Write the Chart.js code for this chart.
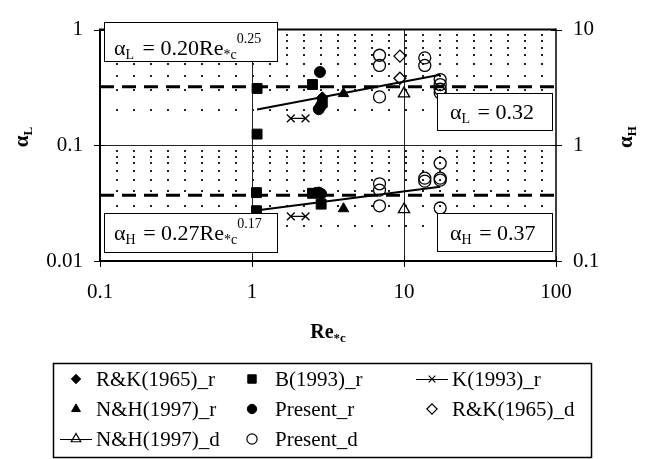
<!DOCTYPE html>
<html>
<head>
<meta charset="utf-8">
<script src="https://cdn.jsdelivr.net/npm/chart.js@4.4.1/dist/chart.umd.min.js"></script>
<style>
  html, body { margin: 0; padding: 0; background: #fff; }
  #wrap { width: 659px; height: 459px; position: relative; }
</style>
</head>
<body>
<div id="wrap"><canvas id="c" width="659" height="459"></canvas></div>
<script>
// ---------- axis ticks ----------
const xTicks = [0.1, 1, 10, 100];
const xTickLabels = ['0.1', '1', '10', '100'];
const yLTicks = [0.01, 0.1, 1];
const yLTickLabels = ['0.01', '0.1', '1'];
const yHTicks = [0.1, 1, 10];
const yHTickLabels = ['0.1', '1', '10'];
const yLMinor = [0.02, 0.03, 0.04, 0.05, 0.06, 0.07, 0.08, 0.09, 0.2, 0.3, 0.4, 0.5, 0.6, 0.7, 0.8, 0.9];
const xMajorGrid = [1, 10];
const yLMajorGrid = [0.1];

// ---------- series names ----------
const seriesNames = ['R&K(1965)_r', 'B(1993)_r', 'K(1993)_r', 'N&H(1997)_r', 'Present_r', 'R&K(1965)_d', 'N&H(1997)_d', 'Present_d'];

// ---------- alpha_L data (left axis) ----------
const rk65r_L_Re = [2.9];
const rk65r_L = [0.26];
const b93r_L_Re = [1.08, 1.08, 2.5, 2.9];
const b93r_L = [0.31, 0.125, 0.335, 0.235];
const k93r_L_Re = [1.8, 2.25];
const k93r_L = [0.171, 0.171];
const nh97r_L_Re = [4.0];
const nh97r_L = [0.28];
const presr_L_Re = [2.8, 2.75, 2.85];
const presr_L = [0.43, 0.205, 0.22];
const rk65d_L_Re = [9.4, 9.4];
const rk65d_L = [0.59, 0.38];
const nh97d_L_Re = [10];
const nh97d_L = [0.28];
const presd_L_Re = [6.9, 6.9, 6.9, 13.7, 13.7, 17.3, 17.3, 17.3, 17.3];
const presd_L = [0.60, 0.49, 0.262, 0.57, 0.49, 0.37, 0.335, 0.305, 0.285];

// ---------- alpha_H data (right axis) ----------
const rk65r_H_Re = [2.6];
const rk65r_H = [0.39];
const b93r_H_Re = [1.07, 1.07, 2.5, 2.85];
const b93r_H = [0.39, 0.272, 0.385, 0.31];
const k93r_H_Re = [1.8, 2.25];
const k93r_H = [0.243, 0.243];
const nh97r_H_Re = [4.0];
const nh97r_H = [0.283];
const presr_H_Re = [2.75, 2.85];
const presr_H = [0.39, 0.38];
const nh97d_H_Re = [10];
const nh97d_H = [0.279];
const presd_H_Re = [6.9, 6.9, 6.9, 13.7, 13.7, 17.3, 17.3, 17.3, 17.3];
const presd_H = [0.465, 0.41, 0.30, 0.52, 0.49, 0.70, 0.52, 0.50, 0.287];

// ---------- fits and constants ----------
const fitL_Re = [1.08, 17.3];
const fitL = [0.204, 0.408];
const fitH_Re = [1.06, 17.3];
const fitH = [0.273, 0.438];
const constRe = [0.1, 100];
const constL = [0.32, 0.32];
const constH = [0.37, 0.37];

const SERIF = '"Liberation Serif", "Times New Roman", serif';

function pts(xs, ys) { return xs.map((x, i) => ({ x: x, y: ys[i] })); }

const styles = {
  'R&K(1965)_r': { pointStyle: 'rectRot', radius: 5.5, fill: true },
  'B(1993)_r':   { pointStyle: 'rect', radius: 7, fill: true },
  'K(1993)_r':   { pointStyle: 'crossRot', radius: 5.5, fill: false, line: true },
  'N&H(1997)_r': { pointStyle: 'triangle', radius: 6, fill: true },
  'Present_r':   { pointStyle: 'circle', radius: 5.5, fill: true },
  'R&K(1965)_d': { pointStyle: 'rectRot', radius: 6, fill: false },
  'N&H(1997)_d': { pointStyle: 'triangle', radius: 6.5, fill: false, line: true },
  'Present_d':   { pointStyle: 'circle', radius: 6, fill: false }
};

function series(name, xs, ys, axis) {
  const s = styles[name];
  return {
    label: name,
    data: pts(xs, ys),
    yAxisID: axis,
    pointStyle: s.pointStyle,
    pointRadius: s.radius,
    pointHoverRadius: s.radius,
    pointBackgroundColor: s.fill ? '#000' : 'rgba(0,0,0,0)',
    pointBorderColor: '#000',
    pointBorderWidth: s.fill ? 1 : 1.3,
    borderColor: '#000',
    borderWidth: 1.2,
    showLine: !!s.line,
    fill: false
  };
}
function lineSet(name, xs, ys, axis, width, dash) {
  return {
    label: name, data: pts(xs, ys), yAxisID: axis,
    showLine: true, pointRadius: 0, pointHoverRadius: 0,
    borderColor: '#000', borderWidth: width, borderDash: dash || [],
    fill: false
  };
}

const datasets = [
  series('R&K(1965)_r', rk65r_L_Re, rk65r_L, 'y'),
  series('B(1993)_r', b93r_L_Re, b93r_L, 'y'),
  series('K(1993)_r', k93r_L_Re, k93r_L, 'y'),
  series('N&H(1997)_r', nh97r_L_Re, nh97r_L, 'y'),
  series('Present_r', presr_L_Re, presr_L, 'y'),
  series('R&K(1965)_d', rk65d_L_Re, rk65d_L, 'y'),
  series('N&H(1997)_d', nh97d_L_Re, nh97d_L, 'y'),
  series('Present_d', presd_L_Re, presd_L, 'y'),
  series('R&K(1965)_r', rk65r_H_Re, rk65r_H, 'y2'),
  series('B(1993)_r', b93r_H_Re, b93r_H, 'y2'),
  series('K(1993)_r', k93r_H_Re, k93r_H, 'y2'),
  series('N&H(1997)_r', nh97r_H_Re, nh97r_H, 'y2'),
  series('Present_r', presr_H_Re, presr_H, 'y2'),
  series('N&H(1997)_d', nh97d_H_Re, nh97d_H, 'y2'),
  series('Present_d', presd_H_Re, presd_H, 'y2'),
  lineSet('fitL', fitL_Re, fitL, 'y', 2),
  lineSet('fitH', fitH_Re, fitH, 'y2', 2),
  lineSet('constL', constRe, constL, 'y', 3, [14, 8]),
  lineSet('constH', constRe, constH, 'y2', 3, [14, 8])
];

// rich text helper: parts = [{t, size, bold, dy}]
function drawRich(ctx, parts, x, y) {
  let cx = x;
  parts.forEach(p => {
    ctx.font = (p.bold ? 'bold ' : '') + p.size + 'px ' + SERIF;
    ctx.fillText(p.t, cx, y + (p.dy || 0));
    cx += ctx.measureText(p.t).width + (p.gap || 0);
  });
  return cx - x;
}
function richWidth(ctx, parts) {
  let w = 0;
  parts.forEach(p => {
    ctx.font = (p.bold ? 'bold ' : '') + p.size + 'px ' + SERIF;
    w += ctx.measureText(p.t).width + (p.gap || 0);
  });
  return w;
}

function drawMarker(ctx, name, x, y) {
  const s = styles[name];
  ctx.save();
  ctx.fillStyle = s.fill ? '#000' : 'rgba(0,0,0,0)';
  ctx.strokeStyle = '#000';
  ctx.lineWidth = s.fill ? 1 : 1.2;
  const r = s.radius * 0.85;
  if (Chart.helpers && Chart.helpers.drawPoint) {
    Chart.helpers.drawPoint(ctx, { pointStyle: s.pointStyle, radius: r, borderWidth: ctx.lineWidth, rotation: 0 }, x, y);
  } else {
    ctx.beginPath(); ctx.arc(x, y, r, 0, Math.PI * 2);
    if (s.fill) ctx.fill(); ctx.stroke();
  }
  ctx.restore();
}

const decor = {
  id: 'decor',
  beforeDatasetsDraw(chart) {
    const { ctx, chartArea: a, scales } = chart;
    const sx = scales.x, sy = scales.y;
    ctx.save();
    // dotted minor gridlines
    ctx.strokeStyle = '#222';
    ctx.lineWidth = 2;
    ctx.setLineDash([2, 15]);
    yLMinor.forEach(v => {
      const py = Math.round(sy.getPixelForValue(v)) + 0.0;
      ctx.beginPath(); ctx.moveTo(a.left - 1, py); ctx.lineTo(a.right, py); ctx.stroke();
    });
    ctx.setLineDash([]);
    // major gridlines
    ctx.lineWidth = 1;
    xMajorGrid.forEach(v => {
      const px = Math.round(sx.getPixelForValue(v)) + 0.5;
      ctx.beginPath(); ctx.moveTo(px, a.top); ctx.lineTo(px, a.bottom); ctx.stroke();
    });
    yLMajorGrid.forEach(v => {
      const py = Math.round(sy.getPixelForValue(v)) + 0.5;
      ctx.beginPath(); ctx.moveTo(a.left, py); ctx.lineTo(a.right, py); ctx.stroke();
    });
    ctx.strokeStyle = '#000';
    // tick marks
    ctx.lineWidth = 1;
    xTicks.forEach(v => {
      const px = Math.round(sx.getPixelForValue(v)) + 0.5;
      ctx.beginPath(); ctx.moveTo(px, a.bottom - 5); ctx.lineTo(px, a.bottom + 6); ctx.stroke();
    });
    yLTicks.forEach(v => {
      const py = Math.round(sy.getPixelForValue(v)) + 0.5;
      ctx.beginPath(); ctx.moveTo(a.left - 6, py); ctx.lineTo(a.left + 5, py); ctx.stroke();
    });
    const sy2 = scales.y2;
    yHTicks.forEach(v => {
      const py = Math.round(sy2.getPixelForValue(v)) + 0.5;
      ctx.beginPath(); ctx.moveTo(a.right - 5, py); ctx.lineTo(a.right + 6, py); ctx.stroke();
    });
    ctx.restore();
  },
  afterDatasetsDraw(chart) {
    const { ctx, chartArea: a } = chart;
    ctx.save();
    // frame
    ctx.strokeStyle = '#000';
    ctx.lineWidth = 2;
    ctx.beginPath();
    ctx.moveTo(a.left, a.top); ctx.lineTo(a.right, a.top);
    ctx.moveTo(a.left, a.bottom); ctx.lineTo(a.right, a.bottom);
    ctx.moveTo(a.left, a.top - 1); ctx.lineTo(a.left, a.bottom + 1);
    ctx.stroke();
    ctx.lineWidth = 1.5;
    ctx.beginPath(); ctx.moveTo(a.right, a.top - 1); ctx.lineTo(a.right, a.bottom + 1); ctx.stroke();

    // annotation boxes
    ctx.fillStyle = '#000';
    ctx.textBaseline = 'alphabetic';
    ctx.textAlign = 'left';
    const boxes = [
      { x: 104, y: 22, w: 173, h: 39, tx: 114, ty: 55, parts: [
        { t: 'α', size: 22 }, { t: 'L', size: 14, dy: 4, gap: 3 }, { t: ' = 0.20Re', size: 22 },
        { t: '*c', size: 14, dy: 4 }, { t: '0.25', size: 14, dy: -12 } ] },
      { x: 437, y: 93, w: 115, h: 37, tx: 450, ty: 119, parts: [
        { t: 'α', size: 22 }, { t: 'L', size: 14, dy: 4, gap: 2 }, { t: ' = 0.32', size: 22 } ] },
      { x: 104, y: 213, w: 173, h: 39, tx: 114, ty: 240, parts: [
        { t: 'α', size: 22 }, { t: 'H', size: 14, dy: 4, gap: 2 }, { t: ' = 0.27Re', size: 22 },
        { t: '*c', size: 14, dy: 4 }, { t: '0.17', size: 14, dy: -12 } ] },
      { x: 437, y: 213, w: 115, h: 38, tx: 450, ty: 240, parts: [
        { t: 'α', size: 22 }, { t: 'H', size: 14, dy: 4, gap: 2 }, { t: ' = 0.37', size: 22 } ] }
    ];
    boxes.forEach(b => {
      ctx.fillStyle = '#fff';
      ctx.fillRect(b.x, b.y, b.w, b.h);
      ctx.lineWidth = 1;
      ctx.strokeStyle = '#000';
      ctx.strokeRect(b.x + 0.5, b.y + 0.5, b.w, b.h);
      ctx.fillStyle = '#000';
      drawRich(ctx, b.parts, b.tx, b.ty);
    });
    ctx.restore();
  },
  afterDraw(chart) {
    const { ctx, chartArea: a } = chart;
    ctx.save();
    ctx.fillStyle = '#000';
    ctx.textBaseline = 'alphabetic';
    // x-axis title
    const xt = [{ t: 'Re', size: 20, bold: true }, { t: '*c', size: 13, bold: true, dy: 4 }];
    const xw = richWidth(ctx, xt);
    drawRich(ctx, xt, (a.left + a.right) / 2 - xw / 2, 338);
    // left y title
    const lt = [{ t: 'α', size: 21, bold: true }, { t: 'L', size: 13, bold: true, dy: 4 }];
    const lw = richWidth(ctx, lt);
    ctx.save(); ctx.translate(28, 137); ctx.rotate(-Math.PI / 2);
    drawRich(ctx, lt, -lw / 2, 0); ctx.restore();
    const rt = [{ t: 'α', size: 21, bold: true }, { t: 'H', size: 13, bold: true, dy: 4 }];
    const rw = richWidth(ctx, rt);
    ctx.save(); ctx.translate(632, 137); ctx.rotate(-Math.PI / 2);
    drawRich(ctx, rt, -rw / 2, 0); ctx.restore();

    // legend
    ctx.lineWidth = 1.5;
    ctx.strokeStyle = '#000';
    ctx.strokeRect(53.5, 363.5, 538, 94);
    const colMarker = [76, 252, 432];
    const colText = [96, 275, 452];
    const rowY = [379, 409, 439];
    ctx.font = '21px ' + SERIF;
    ctx.textBaseline = 'middle';
    seriesNames.forEach((name, i) => {
      const r = Math.floor(i / 3), c = i % 3;
      const mx = colMarker[c], my = rowY[r];
      if (styles[name].line) {
        ctx.save(); ctx.lineWidth = 1; ctx.beginPath();
        ctx.moveTo(mx - 16, my + 0.5); ctx.lineTo(mx + 16, my + 0.5); ctx.stroke(); ctx.restore();
      }
      drawMarker(ctx, name, mx, my);
      ctx.fillStyle = '#000';
      ctx.font = '21px ' + SERIF;
      ctx.fillText(name, colText[c], my + 1);
    });
    ctx.restore();
  }
};

const tickFont = { family: SERIF, size: 21 };

new Chart(document.getElementById('c'), {
  type: 'scatter',
  data: { datasets: datasets },
  options: {
    responsive: false,
    animation: false,
    devicePixelRatio: 1,
    layout: { padding: { top: 13, left: 0, right: 0, bottom: 0 } },
    plugins: { legend: { display: false }, tooltip: { enabled: false } },
    scales: {
      x: {
        type: 'logarithmic', min: 0.1, max: 100, position: 'bottom',
        grid: { display: false, drawTicks: false }, border: { display: false },
        afterBuildTicks: s => { s.ticks = xTicks.map(v => ({ value: v, major: true })); },
        afterFit: s => { s.height = 198; },
        ticks: { font: tickFont, color: '#000', padding: 19, maxRotation: 0, autoSkip: false,
          callback: (v, i) => xTickLabels[i] }
      },
      y: {
        type: 'logarithmic', min: 0.01, max: 1, position: 'left',
        grid: { display: false, drawTicks: false }, border: { display: false },
        afterBuildTicks: s => { s.ticks = yLTicks.map(v => ({ value: v, major: true })); },
        afterFit: s => { s.width = 100; },
        ticks: { font: tickFont, color: '#000', padding: 17, autoSkip: false,
          callback: (v, i) => yLTickLabels[i] }
      },
      y2: {
        type: 'logarithmic', min: 0.1, max: 10, position: 'right',
        grid: { display: false, drawTicks: false }, border: { display: false },
        afterBuildTicks: s => { s.ticks = yHTicks.map(v => ({ value: v, major: true })); },
        afterFit: s => { s.width = 103; },
        ticks: { font: tickFont, color: '#000', padding: 17, autoSkip: false,
          callback: (v, i) => yHTickLabels[i] }
      }
    }
  },
  plugins: [decor]
});
</script>
</body>
</html>
